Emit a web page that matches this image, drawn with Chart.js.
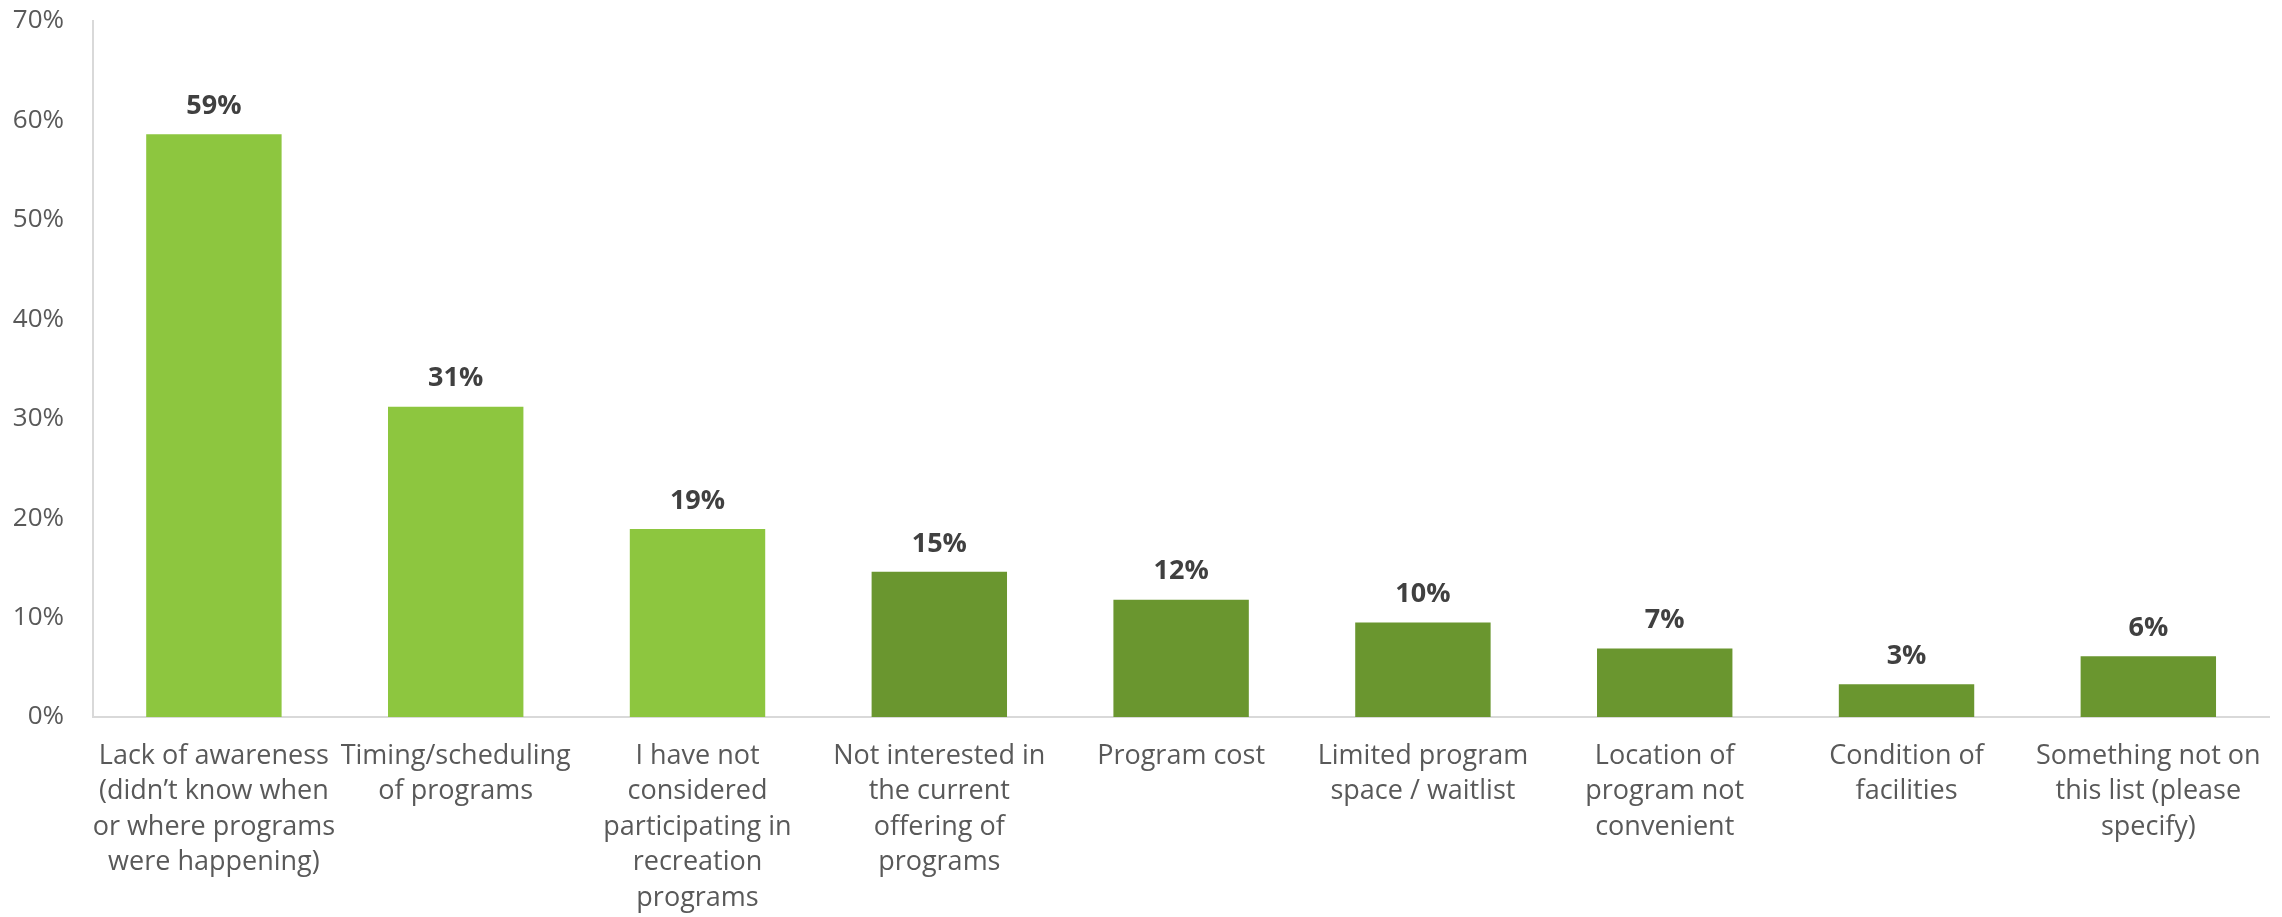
<!DOCTYPE html>
<html lang="en">
<head>
  <meta charset="UTF-8">
  <title>Barriers to participating in programs</title>
  <style>
    html, body {
      margin: 0;
      padding: 0;
      background: #ffffff;
    }
    .wrap {
      width: 2282px;
      height: 917px;
    }
  </style>
</head>
<body>
  <div class="wrap">
    <canvas id="grafico" width="2282" height="917"></canvas>
  </div>

  <script src="https://cdn.jsdelivr.net/npm/chart.js"></script>
  <script>
    const categorias = [
      ['Lack of awareness', '(didn\u2019t know when', 'or where programs', 'were happening)'],
      ['Timing/scheduling', 'of programs'],
      ['I have not', 'considered', 'participating in', 'recreation', 'programs'],
      ['Not interested in', 'the current', 'offering of', 'programs'],
      ['Program cost'],
      ['Limited program', 'space / waitlist'],
      ['Location of', 'program not', 'convenient'],
      ['Condition of', 'facilities'],
      ['Something not on', 'this list (please', 'specify)']
    ];
    const porcentajes = [58.6, 31.2, 18.9, 14.6, 11.8, 9.5, 6.9, 3.3, 6.1];
    const ticksY = [0, 10, 20, 30, 40, 50, 60, 70];

    const verdeClaro = '#8dc63f';
    const verdeOscuro = '#6a962f';
    // the first three reasons are highlighted
    const colores = porcentajes.map((v, i) => i < 3 ? verdeClaro : verdeOscuro);

    // value labels above each bar
    const etiquetas = {
      id: 'etiquetas',
      afterDatasetsDraw(chart) {
        const ctx = chart.ctx;
        const meta = chart.getDatasetMeta(0);
        ctx.save();
        ctx.font = 'bold 27px "Open Sans"';
        ctx.fillStyle = '#404040';
        ctx.textAlign = 'center';
        ctx.textBaseline = 'middle';
        meta.data.forEach((bar, i) => {
          ctx.fillText(Math.round(porcentajes[i]) + '%', bar.x, bar.y - 28);
        });
        ctx.restore();
      }
    };

    const ctx = document.getElementById('grafico').getContext('2d');
    new Chart(ctx, {
      type: 'bar',
      data: {
        labels: categorias,
        datasets: [{
          data: porcentajes,
          backgroundColor: colores,
          borderWidth: 0,
          barPercentage: 0.56,
          categoryPercentage: 1
        }]
      },
      options: {
        responsive: false,
        animation: false,
        layout: {
          padding: { top: 0, right: 6, left: 0, bottom: 0 }
        },
        plugins: {
          legend: { display: false },
          tooltip: { enabled: false }
        },
        scales: {
          y: {
            min: 0,
            max: 70,
            afterBuildTicks(scale) {
              scale.ticks = ticksY.map(v => ({ value: v }));
            },
            afterFit(scale) {
              scale.width = 93;
              scale.paddingTop = 21;
            },
            grid: { display: false, drawTicks: false },
            border: { display: true, color: '#d9d9d9', width: 2 },
            ticks: {
              padding: 29,
              color: '#595959',
              font: { family: 'Open Sans', size: 26 },
              callback: v => v + '%'
            }
          },
          x: {
            afterFit(scale) {
              scale.height = 200;
            },
            grid: { display: false, drawTicks: false },
            border: { display: true, color: '#d9d9d9', width: 2 },
            ticks: {
              padding: 21,
              maxRotation: 0,
              autoSkip: false,
              color: '#595959',
              font: { family: 'Open Sans', size: 27, lineHeight: 1.32 }
            }
          }
        }
      },
      plugins: [etiquetas]
    });
  </script>
</body>
</html>
